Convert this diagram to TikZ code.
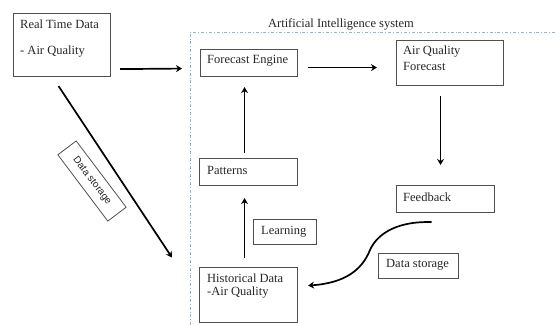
\documentclass[tikz,border=0pt]{standalone}
\usepackage{fontspec}
\setmainfont{Liberation Serif}
\newfontfamily\lsans{Liberation Sans}
\usetikzlibrary{arrows.meta,calc}
\definecolor{boxgray}{RGB}{80,80,80}
\definecolor{aiblue}{RGB}{160,176,192}
\begin{document}
\begin{tikzpicture}[x=1pt,y=-1pt,
  box/.style={draw=boxgray,line width=1.1pt,anchor=north west,inner sep=0pt},
  txt/.style={anchor=west,inner sep=0pt,text=black!85,font=\fontsize{12.5}{14}\selectfont},
  arr/.style={draw=black,line width=1.7pt,-{Stealth[length=6pt,width=7pt,inset=2pt]}}]
\useasboundingbox (0,0) rectangle (555,327);
% AI system frame
\coordinate (aitl) at (190,32);
\coordinate (aitr) at (555,32);
\coordinate (aibl) at (190,327);
\draw[aiblue,line width=0.8pt,dash dot] (aitr) -- (aitl) -- (aibl);
\node[inner sep=0pt,text=black!85,font=\fontsize{12.5}{14}\selectfont] (ailbl) at (341,24) {Artificial Intelligence system};
% boxes
\node[box,minimum width=97pt,minimum height=63pt] (rtd) at (13,13) {};
\node[txt] (rtdt1) at (20,24) {Real Time Data};
\node[txt] (rtdt2) at (20,52) {- Air Quality};
\node[box,minimum width=97pt,minimum height=27pt] (fe) at (200,49) {};
\node[txt] (fet) at (207,61) {Forecast Engine};
\node[box,minimum width=107pt,minimum height=45pt] (aqf) at (396,40) {};
\node[txt] (aqft1) at (403,52) {Air Quality};
\node[txt] (aqft2) at (403,66) {Forecast};
\node[box,minimum width=98pt,minimum height=27pt] (fb) at (396,185) {};
\node[txt] (fbt) at (403,197) {Feedback};
\node[box,minimum width=98pt,minimum height=27pt] (pat) at (199,158) {};
\node[txt] (patt) at (207,170) {Patterns};
\node[box,minimum width=63pt,minimum height=25pt] (learn) at (253,219) {};
\node[txt] (learnt) at (261,232) {Learning};
\node[box,minimum width=98pt,minimum height=55pt] (hist) at (199,267) {};
\node[txt] (histt1) at (207,278) {Historical Data};
\node[txt] (histt2) at (207,293) {-Air Quality};
\node[box,minimum width=80pt,minimum height=25pt] (ds) at (378,253) {};
\node[txt] (dst) at (386,265) {Data storage};
\node[draw=boxgray,line width=0.8pt,rotate=-53,minimum width=83pt,minimum height=23pt,inner sep=0pt,text=black!85,font=\lsans\fontsize{10}{11}\selectfont] (dsd) at (92,181) {Data storage};
% connectors
\draw[arr] ([xshift=9pt,yshift=8pt]rtd.south east) -- ([xshift=-18pt,yshift=-5.5pt]fe.west);
\draw[arr] ([xshift=10pt,yshift=-4.5pt]fe.east) -- ([xshift=-19pt,yshift=-4.5pt]aqf.west);
\draw[arr] ([xshift=-9.5pt,yshift=-10pt]aqf.south) -- ([xshift=-5pt,yshift=20pt]fb.north);
\draw[arr] ([xshift=-4pt,yshift=9pt]hist.north) -- ([xshift=-4pt,yshift=-12pt]pat.south);
\draw[arr] ([xshift=-4pt,yshift=5pt]pat.north) -- ([xshift=-4.5pt,yshift=-10pt]fe.south);
\draw[arr] ([xshift=-3.5pt,yshift=-9pt]rtd.south) -- ([xshift=-27pt,yshift=37.5pt]hist.west);
\draw[arr] ([xshift=-14pt,yshift=-9pt]fb.south) .. controls (400,221) and (378,232) .. (370,250) .. controls (362,270) and (345,283) .. ([xshift=10pt,yshift=9.5pt]hist.east);
\end{tikzpicture}
\end{document}
